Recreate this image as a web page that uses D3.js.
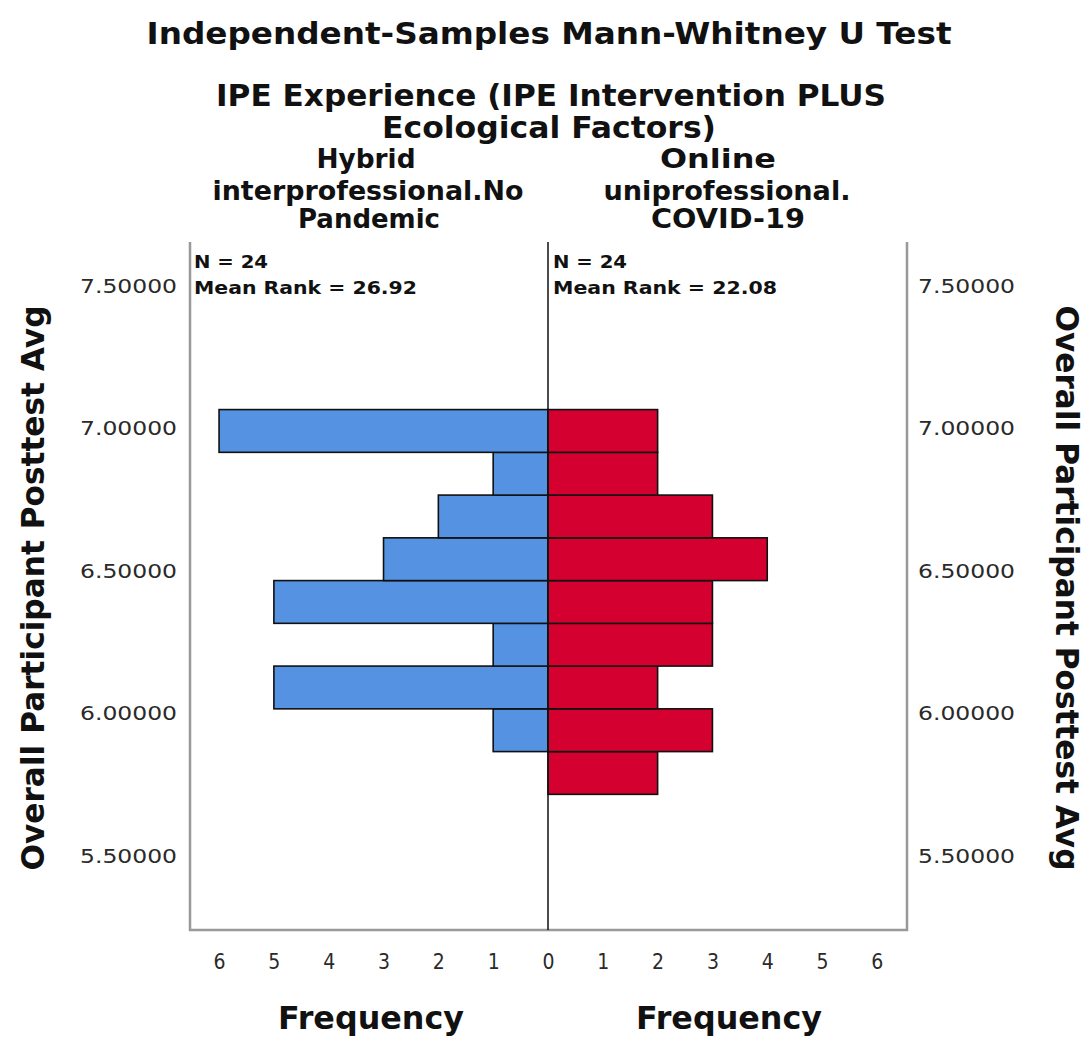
<!DOCTYPE html>
<html><head><meta charset="utf-8">
<script src="https://cdn.jsdelivr.net/npm/d3@7"></script>
<style>
body{margin:0;background:#fff;}
text{font-family:'DejaVu Sans',sans-serif;}
</style></head>
<body>
<svg id="chart" width="1086" height="1038"></svg>
<script>
// ---- data ----
const titleLines = ["Independent-Samples Mann-Whitney U Test"];
const factorLines = ["IPE Experience (IPE Intervention PLUS", "Ecological Factors)"];
const groupLeftLines = ["Hybrid", "interprofessional.No", "Pandemic"];
const groupRightLines = ["Online", "uniprofessional.", "COVID-19"];
const statsLeft = ["N = 24", "Mean Rank = 26.92"];
const statsRight = ["N = 24", "Mean Rank = 22.08"];
const yLabel = "Overall Participant Posttest Avg";
const xLabel = "Frequency";
const binEdges = [5.715, 5.865, 6.015, 6.165, 6.315, 6.465, 6.615, 6.765, 6.915, 7.065];
const leftCounts  = [0, 1, 5, 1, 5, 3, 2, 1, 6];
const rightCounts = [2, 3, 2, 3, 3, 4, 3, 2, 2];
const yTicks = [5.5, 6.0, 6.5, 7.0, 7.5];
const freqTicks = [0, 1, 2, 3, 4, 5, 6];

// ---- layout ----
const svg = d3.select("#chart");
const plotTop = 242, plotBottom = 930, leftX = 190, rightX = 907, mid = 548;
const y = d3.scaleLinear().domain([5.239, 7.653]).range([plotBottom, plotTop]);
const xL = d3.scaleLinear().domain([0, 6.53]).range([mid, leftX]);
const xR = d3.scaleLinear().domain([0, 6.55]).range([mid, rightX]);
const blue = "#5592e1", red = "#d4002f";

// bars
const bins = leftCounts.map((c, i) => ({lo: binEdges[i], hi: binEdges[i+1], l: c, r: rightCounts[i]}));
svg.append("g").selectAll("rect").data(bins.filter(d => d.l > 0)).join("rect")
  .attr("x", d => xL(d.l)).attr("width", d => xL(0) - xL(d.l))
  .attr("y", d => y(d.hi)).attr("height", d => y(d.lo) - y(d.hi))
  .attr("fill", blue).attr("stroke", "#111").attr("stroke-width", 1.6);
svg.append("g").selectAll("rect").data(bins.filter(d => d.r > 0)).join("rect")
  .attr("x", xR(0)).attr("width", d => xR(d.r) - xR(0))
  .attr("y", d => y(d.hi)).attr("height", d => y(d.lo) - y(d.hi))
  .attr("fill", red).attr("stroke", "#111").attr("stroke-width", 1.6);

// frame
svg.append("path").attr("d", `M${leftX},${plotTop}V${plotBottom}H${rightX}V${plotTop}`)
  .attr("fill", "none").attr("stroke", "#999").attr("stroke-width", 2.5);
svg.append("line").attr("x1", mid).attr("x2", mid).attr("y1", plotTop).attr("y2", plotBottom)
  .attr("stroke", "#111").attr("stroke-width", 1.5);

// y axes
const fmt = d3.format(".5f");
const yaL = svg.append("g").attr("transform", `translate(${leftX},0)`)
  .call(d3.axisLeft(y).tickValues(yTicks).tickFormat(fmt).tickSize(0).tickPadding(13));
const yaR = svg.append("g").attr("transform", `translate(${rightX},0)`)
  .call(d3.axisRight(y).tickValues(yTicks).tickFormat(fmt).tickSize(0).tickPadding(11));
[yaL, yaR].forEach(g => {
  g.select(".domain").remove();
  g.selectAll("text").attr("font-size", 20).attr("fill", "#2a2a2a")
    .attr("textLength", 97).attr("lengthAdjust", "spacingAndGlyphs")
    .style("font-family", "'DejaVu Sans',sans-serif");
});

// x axes
const xaL = svg.append("g").attr("transform", `translate(0,${plotBottom})`)
  .call(d3.axisBottom(xL).tickValues(freqTicks).tickFormat(d3.format("d")).tickSize(0).tickPadding(24));
const xaR = svg.append("g").attr("transform", `translate(0,${plotBottom})`)
  .call(d3.axisBottom(xR).tickValues(freqTicks.slice(1)).tickFormat(d3.format("d")).tickSize(0).tickPadding(24));
[xaL, xaR].forEach(g => {
  g.select(".domain").remove();
  g.selectAll("text").attr("font-size", 21).attr("fill", "#2a2a2a")
    .style("font-family", "'DejaVu Sans Condensed','DejaVu Sans',sans-serif");
});

// text helper
function txt(str, x, yy, size, weight, len, anchor, rot) {
  const t = svg.append("text").text(str).attr("font-size", size)
    .attr("font-weight", weight).attr("text-anchor", anchor || "middle").attr("fill", "#111");
  if (len) t.attr("textLength", len).attr("lengthAdjust", "spacingAndGlyphs");
  if (rot) t.attr("transform", `translate(${x},${yy}) rotate(${rot})`);
  else t.attr("x", x).attr("y", yy);
  return t;
}

txt(titleLines[0], 549, 44, 30, "bold", 805);
txt(factorLines[0], 551, 106, 30, "bold", 670);
txt(factorLines[1], 549, 138, 30, "bold", 334);
const gl = [[366, 168, 99], [368, 200, 311], [369, 228, 142]];
groupLeftLines.forEach((s, i) => txt(s, gl[i][0], gl[i][1], 27, "bold", gl[i][2]));
const gr = [[718, 168, 116], [727, 200, 247], [728, 228, 154]];
groupRightLines.forEach((s, i) => txt(s, gr[i][0], gr[i][1], 27, "bold", gr[i][2]));

txt(statsLeft[0], 194, 268, 18, "bold", 74, "start");
txt(statsLeft[1], 194, 294, 18, "bold", 223, "start");
txt(statsRight[0], 553, 268, 18, "bold", 74, "start");
txt(statsRight[1], 553, 294, 18, "bold", 224, "start");

txt(yLabel, 44, 588, 32, "bold", 565, "middle", -90);
txt(yLabel, 1056, 588, 32, "bold", 565, "middle", 90);

txt(xLabel, 371, 1029, 32, "bold", 186);
txt(xLabel, 729, 1029, 32, "bold", 186);
</script>
</body></html>
